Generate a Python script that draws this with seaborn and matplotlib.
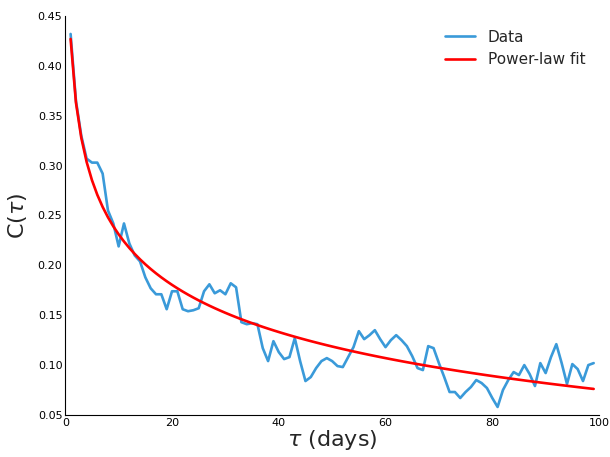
import numpy as np
import pandas as pd
import matplotlib
matplotlib.use("Agg")
import matplotlib.pyplot as plt
import seaborn as sns

# ---- data ----
tau = list(range(1, 100))
corr = [0.432, 0.365, 0.330, 0.307, 0.303, 0.303, 0.292, 0.255, 0.242, 0.219,
        0.242, 0.222, 0.210, 0.204, 0.188, 0.177, 0.171, 0.171, 0.156, 0.174,
        0.174, 0.156, 0.154, 0.155, 0.157, 0.174, 0.181, 0.172, 0.175, 0.171,
        0.182, 0.178, 0.143, 0.141, 0.142, 0.141, 0.117, 0.104, 0.124, 0.113,
        0.106, 0.108, 0.127, 0.104, 0.084, 0.088, 0.097, 0.104, 0.107, 0.104,
        0.099, 0.098, 0.108, 0.118, 0.134, 0.126, 0.130, 0.135, 0.126, 0.118,
        0.125, 0.130, 0.125, 0.119, 0.109, 0.097, 0.095, 0.119, 0.117, 0.102,
        0.088, 0.073, 0.073, 0.067, 0.073, 0.078, 0.085, 0.082, 0.077, 0.067,
        0.058, 0.075, 0.085, 0.093, 0.090, 0.100, 0.091, 0.079, 0.102, 0.092,
        0.108, 0.121, 0.102, 0.081, 0.101, 0.096, 0.084, 0.100, 0.102]

# power-law fit parameters: C = A * tau^(-B) + C0
fit_A = 0.9525
fit_B = 0.10
fit_C0 = -0.5255

x_ticks = [0, 20, 40, 60, 80, 100]
y_ticks = [0.05, 0.10, 0.15, 0.20, 0.25, 0.30, 0.35, 0.40, 0.45]
series_names = ["Data", "Power-law fit"]

tau_arr = np.array(tau, dtype=float)
fit_vals = fit_A * tau_arr ** (-fit_B) + fit_C0

df = pd.DataFrame({
    "tau": list(tau_arr) * 2,
    "C": list(corr) + list(fit_vals),
    "series": [series_names[0]] * len(tau) + [series_names[1]] * len(tau),
})

sns.set_style("white")
plt.rcParams["font.family"] = ["DejaVu Sans"]

fig = plt.figure(figsize=(6.1, 4.57), dpi=100)
ax = fig.add_axes([0.107, 0.092, 0.875, 0.873])

sns.lineplot(data=df, x="tau", y="C", hue="series",
             palette={"Data": "#3a9ad9", "Power-law fit": "#ff0000"},
             linewidth=1.9, ax=ax)

ax.set_xlim(0, 100)
ax.set_ylim(0.05, 0.45)
ax.set_xticks(x_ticks)
ax.set_yticks(y_ticks)
ax.set_xticklabels([str(t) for t in x_ticks])
ax.set_yticklabels([f"{t:.2f}" for t in y_ticks])
ax.tick_params(axis="both", direction="in", length=3, width=0.8,
               labelsize=8, colors="black", pad=2)

for s in ["top", "right"]:
    ax.spines[s].set_visible(False)
for s in ["left", "bottom"]:
    ax.spines[s].set_color("black")
    ax.spines[s].set_linewidth(0.8)

ax.set_xlabel(r"$\tau$ (days)", fontsize=16, labelpad=0)
ax.set_ylabel(r"C($\tau$)", fontsize=16, labelpad=6)

leg = ax.legend(loc="upper right", frameon=False, fontsize=11,
                handlelength=2.0, bbox_to_anchor=(1.0, 1.0))
leg.set_title(None)

fig.savefig("out.png", dpi=100)
